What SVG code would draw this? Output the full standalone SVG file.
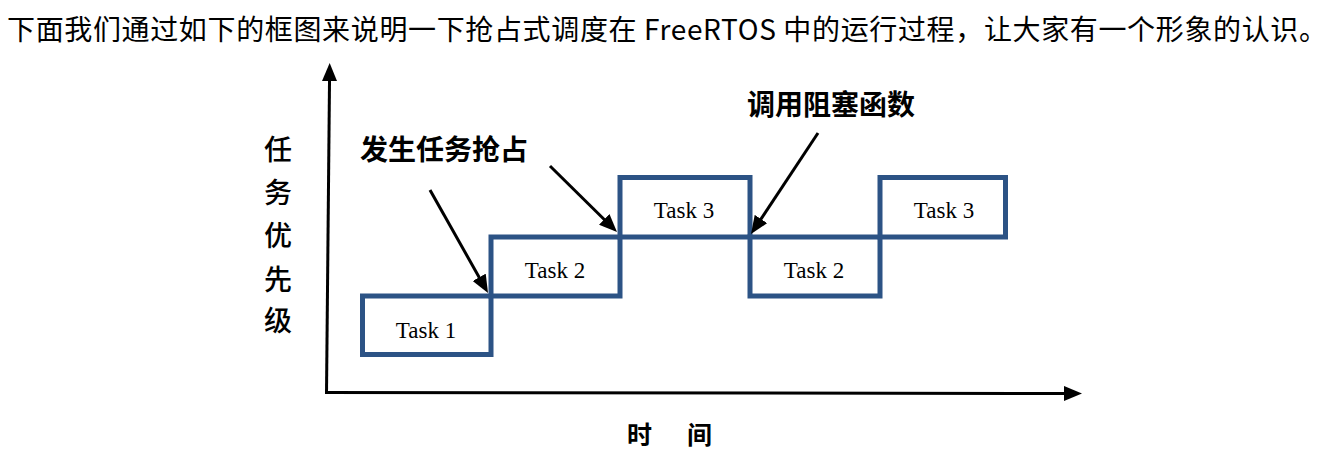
<svg xmlns="http://www.w3.org/2000/svg" width="1328" height="459" viewBox="0 0 1328 459">
<style>
.title{font-family:"Noto Sans CJK SC","Noto Sans",sans-serif;font-size:28px;fill:#000}
.lbl{font-family:"Noto Sans CJK SC",sans-serif;font-size:28px;font-weight:bold;fill:#000}
.ylbl{font-family:"Noto Sans CJK SC",sans-serif;font-size:28px;font-weight:500;fill:#000;text-anchor:middle}
.task{fill:#fff;stroke:#2c5385;stroke-width:5}
.tt{font-family:"Liberation Serif","Times New Roman",serif;font-size:23px;fill:#000;text-anchor:middle}
.ax{stroke:#000;stroke-width:3;fill:none}
.ptr{stroke:#000;stroke-width:3;fill:none}
</style>
<defs>
<marker id="ah" markerUnits="userSpaceOnUse" markerWidth="18" markerHeight="15" refX="9" refY="7.5" orient="auto">
<path d="M0,0 L18,7.5 L0,15 z" fill="#000"/>
</marker>
</defs>
<text class="title" x="7" y="40" textLength="1320" lengthAdjust="spacing">下面我们通过如下的框图来说明一下抢占式调度在 FreeRTOS 中的运行过程，让大家有一个形象的认识。</text>

<g id="axes">
<line class="ax" x1="326.5" y1="393" x2="329.6" y2="72" marker-end="url(#ah)"/>
<line class="ax" x1="325" y1="392.5" x2="1073" y2="393.5" marker-end="url(#ah)"/>
</g>
<g id="ylabel">
<text class="ylbl" x="278" y="160">任</text>
<text class="ylbl" x="278" y="203">务</text>
<text class="ylbl" x="278" y="246">优</text>
<text class="ylbl" x="278" y="290">先</text>
<text class="ylbl" x="278" y="331">级</text>
</g>
<g id="xlabel">
<text class="lbl" x="627" y="444" style="font-size:25px" textLength="85" lengthAdjust="spacing" xml:space="preserve">时 间</text>
</g>

<g id="task1"><rect class="task" x="362.5" y="296" width="128.5" height="58.5"/><text class="tt" x="426" y="338">Task 1</text></g>
<g id="task2"><rect class="task" x="491" y="237" width="129" height="59"/><text class="tt" x="555" y="278">Task 2</text></g>
<g id="task3"><rect class="task" x="620" y="177.5" width="130" height="59.5"/><text class="tt" x="684" y="218">Task 3</text></g>
<g id="task2b"><rect class="task" x="750" y="237" width="130" height="59"/><text class="tt" x="814" y="278">Task 2</text></g>
<g id="task3b"><rect class="task" x="880" y="177.5" width="125.5" height="59.5"/><text class="tt" x="944" y="218">Task 3</text></g>

<g id="label-preempt"><text class="lbl" x="360" y="160">发生任务抢占</text></g>
<g id="label-block"><text class="lbl" x="747" y="115">调用阻塞函数</text></g>

<g id="connectors">
<line class="ptr" x1="430" y1="190" x2="483.6" y2="285.2" marker-end="url(#ah)"/>
<line class="ptr" x1="550" y1="166" x2="610.6" y2="225.7" marker-end="url(#ah)"/>
<line class="ptr" x1="818" y1="133" x2="756" y2="226.5" marker-end="url(#ah)"/>
</g>
</svg>
